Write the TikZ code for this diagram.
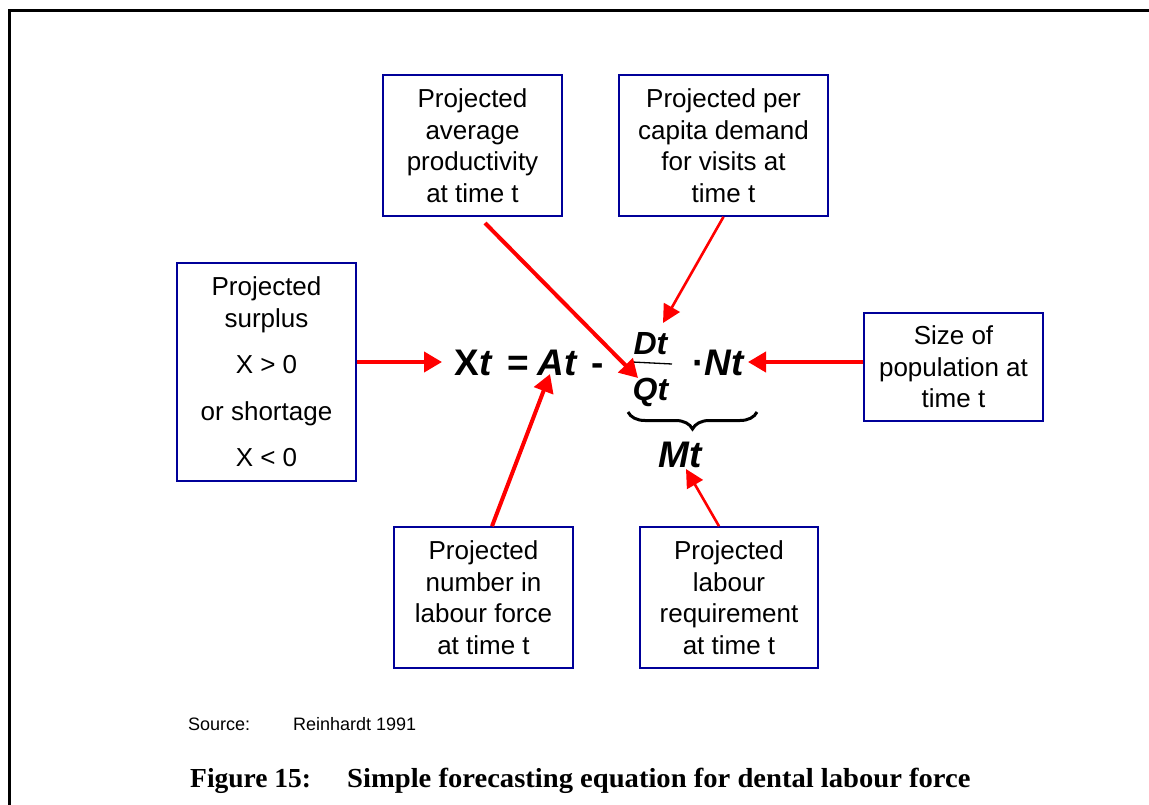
\documentclass[tikz,border=0pt]{standalone}
\usepackage{fontspec}
\usepackage{graphicx}
\setmainfont{Liberation Sans}
\newfontfamily\capfont{Liberation Serif}
\usetikzlibrary{arrows.meta,decorations.pathreplacing}
\definecolor{boxblue}{RGB}{0,0,153}
\definecolor{arrred}{RGB}{255,0,0}
\begin{document}
\begin{tikzpicture}[x=1pt,y=-1pt,
  box/.style={draw=boxblue, line width=1.6pt, fill=white, inner sep=0pt, align=center,
    font=\fontsize{26}{31.5}\selectfont},
  arr/.style={draw=arrred, line width=4pt, -{Triangle[length=18pt,width=20pt]}},
  thinarr/.style={draw=arrred, line width=2.6pt, -{Triangle[length=18pt,width=18pt]}},
  eqf/.style={inner sep=0pt, anchor=base, font=\bfseries\fontsize{37}{40}\selectfont},
  fracf/.style={inner sep=0pt, anchor=base, font=\bfseries\fontsize{32}{34}\selectfont},
  small/.style={anchor=base west, inner sep=0pt, font=\fontsize{18}{20}\selectfont},
  captf/.style={anchor=base west, inner sep=0pt, font=\capfont\bfseries\fontsize{27.5}{30}\selectfont}]
\useasboundingbox (0,0) rectangle (1149,805);
\fill[white] (0,0) rectangle (1149,805);
\draw[line width=3pt] (9,805) -- (9,11) -- (1149,11);

% boxes
\node[box, minimum width=179pt, minimum height=141pt] (prod) at (472.5,145.5) {Projected\\average\\productivity\\at time t};
\node[box, minimum width=209pt, minimum height=141pt] (dem) at (723.5,145.5) {Projected per\\capita demand\\for visits at\\time t};
\node[box, minimum width=179pt, minimum height=218pt] (surp) at (266.5,372) {Projected\\surplus\\[15pt]X > 0\\[15pt]or shortage\\[15pt]X < 0};
\node[box, minimum width=179pt, minimum height=108pt] (pop) at (953.5,367) {Size of\\population at\\time t};
\node[box, minimum width=179pt, minimum height=141pt] (num) at (483.5,597.5) {Projected\\number in\\labour force\\at time t};
\node[box, minimum width=178pt, minimum height=141pt] (req) at (729,597.5) {Projected\\labour\\requirement\\at time t};

% equation
\node[eqf] (xt) at (473.5,375) {X\textit{t}};
\node[eqf] (eqs) at (518.5,375) {=};
\node[eqf] (at) at (557.5,375) {\textit{At}};
\node[eqf] (minus) at (598,375) {-};
\node[fracf] (dt) at (651,354) {\textit{Dt}};
\node[fracf] (qt) at (651,400) {\textit{Qt}};
\draw[line width=1.3pt] (632,362) -- (672,364);
\node[eqf] (nt) at (718.5,375) {·\textit{Nt}};
\draw[line width=3pt, decorate, decoration={brace, mirror, amplitude=17pt}] (628,412) -- (757,412);
\node[eqf] (mt) at (681,467) {\textit{Mt}};

% arrows
\coordinate (t1) at (442,362);
\draw[arr] (surp.east |- t1) -- (t1);
\coordinate (s2) at (485,223);
\coordinate (t2) at (638,378);
\draw[arr] (s2) -- (t2);
\coordinate (t3) at (663,323);
\draw[thinarr] (dem.south) -- (t3);
\coordinate (t4) at (748,362);
\draw[arr] (pop.west |- t4) -- (t4);
\coordinate (s5) at (492,527);
\coordinate (t5) at (550,374);
\draw[arr] (num.north -| s5) -- (t5);
\coordinate (s6) at (719,527);
\coordinate (t6) at (686,469);
\draw[thinarr] (req.north -| s6) -- (t6);

% source and caption
\node[small] (src) at (188,730) {Source:};
\node[small] (srcname) at (293,730) {Reinhardt 1991};
\node[captf] (figlab) at (190,787) {Figure 15:};
\node[captf] (figtitle) at (347,787) {\scalebox{1.04}[1]{Simple forecasting equation for dental labour force}};
\end{tikzpicture}
\end{document}
